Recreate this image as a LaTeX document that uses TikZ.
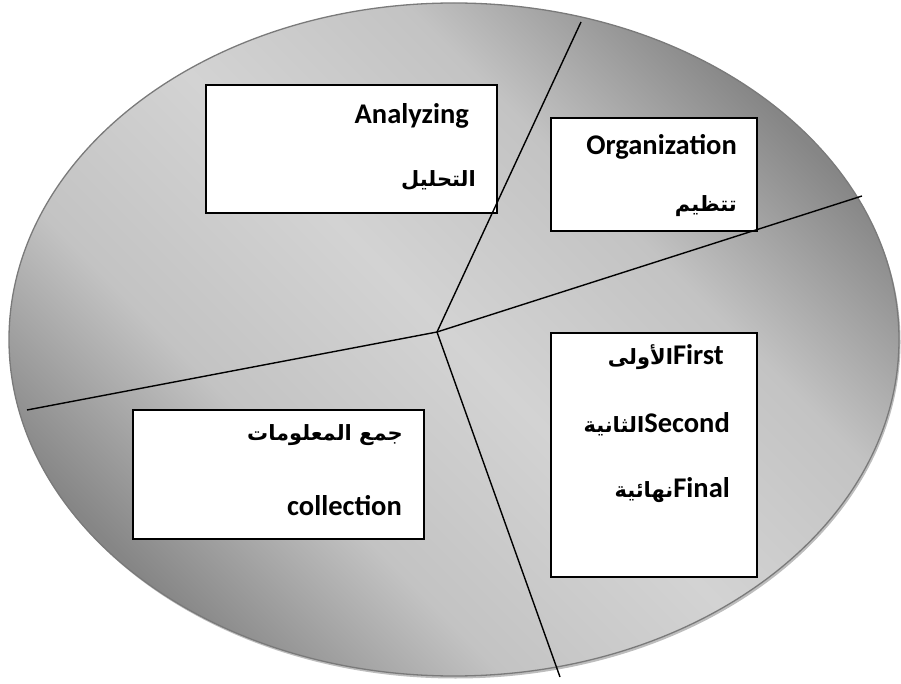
\documentclass[tikz,border=0pt]{standalone}
\usepackage{fontspec}
\setmainfont{Carlito}
\newfontfamily\arabicfont[Script=Arabic]{DejaVu Sans}
\TeXXeTstate=1
\definecolor{rimgray}{HTML}{7A7A7A}
\definecolor{shadowgray}{HTML}{BDBDBD}
\definecolor{edgegray}{HTML}{868686}
\definecolor{outgray}{HTML}{7C7C7C}
\definecolor{softgray}{HTML}{C3C3C3}
\definecolor{midgray}{HTML}{D3D3D3}
% diagonal band: light across the middle, darker towards two opposite rims
\pgfdeclareverticalshading{discshade}{100bp}{color(0bp)=(outgray); color(25bp)=(edgegray);
  color(37bp)=(softgray); color(50bp)=(midgray); color(63bp)=(softgray);
  color(75bp)=(edgegray); color(100bp)=(outgray)}
\begin{document}
\begin{tikzpicture}[x=1pt,y=1pt,
  stagebox/.style={draw=black, line width=1.6pt, fill=white, inner sep=0pt},
  lbl/.style={inner sep=0pt, anchor=base east, font=\bfseries\fontsize{28.5}{34}\selectfont},
  arab/.style={font=\arabicfont\bfseries\fontsize{21}{26}\selectfont},
  divider/.style={draw=black, line width=1.4pt}]
\useasboundingbox (0,0) rectangle (901,683);
% soft shadow and shaded disc
\fill[shadowgray] (455.5,341) ellipse [x radius=445, y radius=336.5];
\shade[shading=discshade, shading angle=-45]
  (454,343.5) ellipse [x radius=445, y radius=336.5];
\draw[rimgray, line width=1.3pt] (454,343.5) ellipse [x radius=445, y radius=336.5];
% boxes
\node[stagebox, minimum width=291pt, minimum height=128pt] (ana) at (351.5,534) {};
\node[stagebox, minimum width=206pt, minimum height=113pt] (org) at (654,508.5) {};
\node[stagebox, minimum width=206pt, minimum height=244pt] (lvl) at (654,228) {};
\node[stagebox, minimum width=291pt, minimum height=129pt] (col) at (278.5,208.5) {};
% dividing lines
\coordinate (hub) at (437,351);
\coordinate (eTop) at (581,661);
\coordinate (eRight) at (862,487);
\coordinate (eLeft) at (27,273);
\coordinate (eBottom) at (560,6);
\draw[divider] (hub) -- (eTop);
\draw[divider] (hub) -- (eRight);
\draw[divider] (hub) -- (eLeft);
\draw[divider] (hub) -- (eBottom);
% labels
\node[lbl] (anaEn) at (469,559) {Analyzing};
\node[lbl, arab] (anaAr) at (476,496) {\beginR التحليل\endR};
\node[lbl] (orgEn) at (737,528) {Organization};
\node[lbl, arab] (orgAr) at (737,471) {\beginR تتظيم\endR};
\node[lbl] (lvl1) at (724,318) {{\arabicfont\fontsize{21}{26}\selectfont\beginR الأولى\endR}First};
\node[lbl] (lvl2) at (730,251) {{\arabicfont\fontsize{21}{26}\selectfont\beginR الثانية\endR}Second};
\node[lbl] (lvl3) at (730,186) {{\arabicfont\fontsize{21}{26}\selectfont\beginR نهائية\endR}Final};
\node[lbl, arab] (colAr) at (403,243) {\beginR جمع المعلومات\endR};
\node[lbl] (colEn) at (402,168) {collection};
\end{tikzpicture}
\end{document}
